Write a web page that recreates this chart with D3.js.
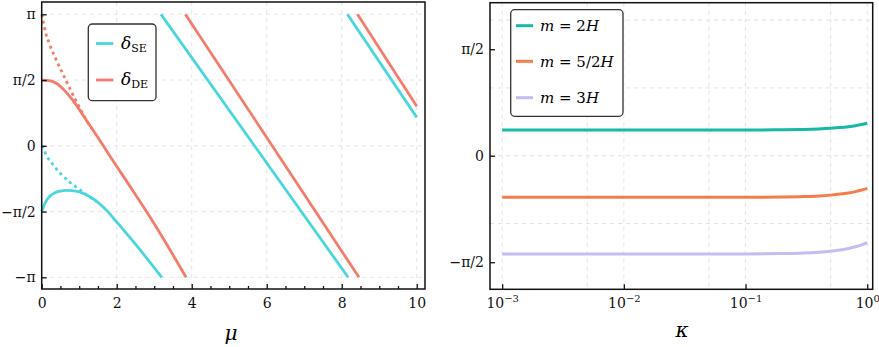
<!DOCTYPE html>
<html lang="en">
<head>
  <meta charset="UTF-8">
  <title>phases</title>
  <style>
    body { margin: 0; background: #fff; }
  </style>
</head>
<body>
  <svg id="svg" width="879" height="347"></svg>
  <script src="https://cdn.jsdelivr.net/npm/d3@7"></script>
  <script>
    const PI = Math.PI

    // left panel: phases vs mu, [mu, delta]
    const seSolid = [[0, -1.571], [0.05, -1.45], [0.1, -1.35], [0.2, -1.22], [0.35, -1.12], [0.5, -1.08], [0.65, -1.065],
      [0.8, -1.07], [1.0, -1.1], [1.25, -1.2], [1.5, -1.35], [1.75, -1.56], [2.0, -1.82], [2.5, -2.35], [3.2, -3.1416]]
    const seDotted = [[0, 0], [0.05, -0.08], [0.12, -0.22], [0.3, -0.45], [0.5, -0.66], [0.75, -0.87], [1.0, -1.04],
      [1.25, -1.2], [1.45, -1.33]]
    const seMid = [[3.18, 3.1416], [8.17, -3.1416]]
    const seEnd = [[8.15, 3.1416], [10, 0.68]]

    const deSolid = [[0, 1.571], [0.2, 1.56], [0.4, 1.49], [0.6, 1.33], [0.8, 1.12], [1.0, 0.87], [1.2, 0.6], [1.4, 0.33],
      [1.6, 0.06], [1.8, -0.22], [2.2, -0.76], [3.0, -1.86], [3.85, -3.1416]]
    const deDotted = [[0, 3.1416], [0.05, 2.92], [0.1, 2.72], [0.2, 2.45], [0.4, 2.03], [0.6, 1.65], [0.8, 1.28],
      [1.0, 0.93], [1.2, 0.6], [1.35, 0.4]]
    const deMid = [[3.83, 3.1416], [8.46, -3.1416]]
    const deEnd = [[8.42, 3.1416], [10, 0.948]]

    // right panel: phase vs kappa
    const kappa = [0.001, 0.01, 0.1, 0.2, 0.3, 0.4, 0.5, 0.6, 0.7, 0.8, 0.9, 1.0]
    const m2 = [0.379, 0.379, 0.380, 0.383, 0.388, 0.395, 0.404, 0.415, 0.428, 0.443, 0.460, 0.479]
    const m52 = [-0.614, -0.614, -0.613, -0.609, -0.602, -0.593, -0.581, -0.566, -0.549, -0.529, -0.506, -0.481]
    const m3 = [-1.45, -1.45, -1.448, -1.443, -1.435, -1.423, -1.408, -1.39, -1.368, -1.343, -1.315, -1.283]

    const piTicks = [-PI, -PI / 2, 0, PI / 2, PI]
    const piLabels = { '-1': '−π', '-0.5': '−π/2', '0': '0', '0.5': 'π/2', '1': 'π' }
    const piFmt = v => piLabels[String(Math.round(v / PI * 2) / 2)]
    const serif = 'DejaVu Serif'

    const svg = d3.select('#svg')

    // ---------- left panel ----------
    const xL = d3.scaleLinear().domain([0, 10.22]).range([41.7, 425])
    const yL = d3.scaleLinear().domain([-3.421, 3.436]).range([289, 2])
    const gL = svg.append('g')

    // grid
    gL.selectAll('.gx').data([0, 2, 4, 6, 8, 10]).join('line')
      .attr('x1', d => xL(d)).attr('x2', d => xL(d)).attr('y1', 2).attr('y2', 289)
    gL.selectAll('.gy').data(piTicks).join('line').attr('class', 'gy')
      .attr('y1', d => yL(d)).attr('y2', d => yL(d)).attr('x1', 41.7).attr('x2', 425)
    gL.selectAll('line').attr('stroke', '#e4e4e4').attr('stroke-width', 1).attr('stroke-dasharray', '4,4')

    const lineL = d3.line().x(d => xL(d[0])).y(d => yL(d[1])).curve(d3.curveMonotoneX)
    const cyan = '#4bd5dd'
    const salmon = '#f47c6c'
    const series = [
      [deDotted, salmon, true], [seDotted, cyan, true],
      [deSolid, salmon], [deMid, salmon], [deEnd, salmon],
      [seSolid, cyan], [seMid, cyan], [seEnd, cyan]
    ]
    series.forEach(([d, c, dot]) => {
      gL.append('path').attr('d', lineL(d)).attr('fill', 'none').attr('stroke', c)
        .attr('stroke-width', 2.8).attr('stroke-dasharray', dot ? '3,3.5' : null)
    })

    // axes
    const axL = gL.append('g').attr('transform', 'translate(0,289)')
      .call(d3.axisBottom(xL).tickValues(d3.range(0, 10.01, 0.5)).tickSize(-5).tickPadding(9)
        .tickFormat(d => d % 2 === 0 ? d : ''))
    axL.selectAll('.tick line').attr('y2', d => d % 2 === 0 ? -5 : -3)
    gL.append('g').attr('transform', 'translate(41.7,0)')
      .call(d3.axisLeft(yL).tickValues(piTicks).tickSize(-5).tickPadding(6).tickFormat(piFmt))
    gL.append('rect').attr('x', 41.7).attr('y', 2).attr('width', 425 - 41.7).attr('height', 287)
      .attr('fill', 'none').attr('stroke', '#111').attr('stroke-width', 1.5)

    // legend
    const legL = gL.append('g')
    legL.append('rect').attr('x', 88.3).attr('y', 24).attr('width', 67.7).attr('height', 76.7).attr('rx', 4)
      .attr('fill', '#fff').attr('stroke', '#333').attr('stroke-width', 1.3)
    ;[['SE', cyan, 43.5], ['DE', salmon, 80]].forEach(([s, c, y]) => {
      legL.append('line').attr('x1', 96).attr('x2', 113.3).attr('y1', y).attr('y2', y)
        .attr('stroke', c).attr('stroke-width', 2.8)
      const t = legL.append('text').attr('x', 121).attr('y', y + 5).attr('font-size', 17)
      t.append('tspan').attr('font-style', 'italic').text('δ')
      t.append('tspan').attr('font-size', 11).attr('dy', 3).text(s)
    })

    gL.append('text').attr('x', 231).attr('y', 340).attr('text-anchor', 'middle')
      .attr('font-size', 20).attr('font-style', 'italic').text('μ')

    // ---------- right panel ----------
    const xR = d3.scaleLog().domain([Math.pow(10, -3.1), Math.pow(10, 0.045)]).range([490, 872.7])
    const yR = d3.scaleLinear().domain([-1.970, 2.257]).range([289.3, 2.7])
    const gR = svg.append('g')

    gR.selectAll('.gx').data([0.001, 0.005, 0.01, 0.05, 0.1, 0.5, 1]).join('line')
      .attr('x1', d => xR(d)).attr('x2', d => xR(d)).attr('y1', 2.7).attr('y2', 289.3)
    gR.selectAll('.gy').data([-1, 0, 1, 2]).join('line').attr('class', 'gy')
      .attr('y1', d => yR(d)).attr('y2', d => yR(d)).attr('x1', 490).attr('x2', 872.7)
    gR.selectAll('line').attr('stroke', '#e4e4e4').attr('stroke-width', 1).attr('stroke-dasharray', '4,4')

    const colorsR = ['#17b8a6', '#f57d4a', '#c5bcf4']
    const namesR = ['2', '5/2', '3']
    const lineR = d3.line().x(d => xR(d[0])).y(d => yR(d[1])).curve(d3.curveMonotoneX)
    ;[m2, m52, m3].forEach((vals, i) => {
      gR.append('path').attr('d', lineR(kappa.map((k, j) => [k, vals[j]])))
        .attr('fill', 'none').attr('stroke', colorsR[i]).attr('stroke-width', 3)
    })

    const axR = gR.append('g').attr('transform', 'translate(0,289.3)')
      .call(d3.axisBottom(xR).tickValues([0.001, 0.01, 0.1, 1]).tickSize(-5).tickPadding(9).tickFormat(() => ''))
    axR.selectAll('.tick text').each(function (d) {
      const t = d3.select(this)
      t.append('tspan').text('10')
      t.append('tspan').attr('font-size', 10).attr('dy', -6).text(String(Math.round(Math.log10(d))).replace('-', '−'))
    })
    gR.append('g').attr('transform', 'translate(490,0)')
      .call(d3.axisLeft(yR).tickValues([-PI / 2, 0, PI / 2]).tickSize(-5).tickPadding(6).tickFormat(piFmt))
    gR.append('rect').attr('x', 490).attr('y', 2.7).attr('width', 872.7 - 490).attr('height', 286.6)
      .attr('fill', 'none').attr('stroke', '#111').attr('stroke-width', 1.5)

    const legR = gR.append('g')
    legR.append('rect').attr('x', 510.7).attr('y', 9.7).attr('width', 112.3).attr('height', 106.6).attr('rx', 4)
      .attr('fill', '#fff').attr('stroke', '#333').attr('stroke-width', 1.3)
    ;[25.7, 61.3, 97.7].forEach((y, i) => {
      legR.append('line').attr('x1', 516).attr('x2', 533).attr('y1', y).attr('y2', y)
        .attr('stroke', colorsR[i]).attr('stroke-width', 3)
      const t = legR.append('text').attr('x', 540).attr('y', y + 5.5).attr('font-size', 15)
      t.append('tspan').attr('font-style', 'italic').text('m')
      t.append('tspan').text(' = ' + namesR[i])
      t.append('tspan').attr('font-style', 'italic').text('H')
    })

    gR.append('text').attr('x', 682).attr('y', 337).attr('text-anchor', 'middle')
      .attr('font-size', 20).attr('font-style', 'italic').text('κ')

    // common axis styling
    svg.selectAll('.domain').remove()
    svg.selectAll('.tick line').attr('stroke', '#111').attr('stroke-width', 1.3)
    svg.selectAll('.tick text').attr('font-size', 14).attr('fill', '#111')
    svg.selectAll('text').attr('font-family', serif)
  </script>
</body>
</html>
